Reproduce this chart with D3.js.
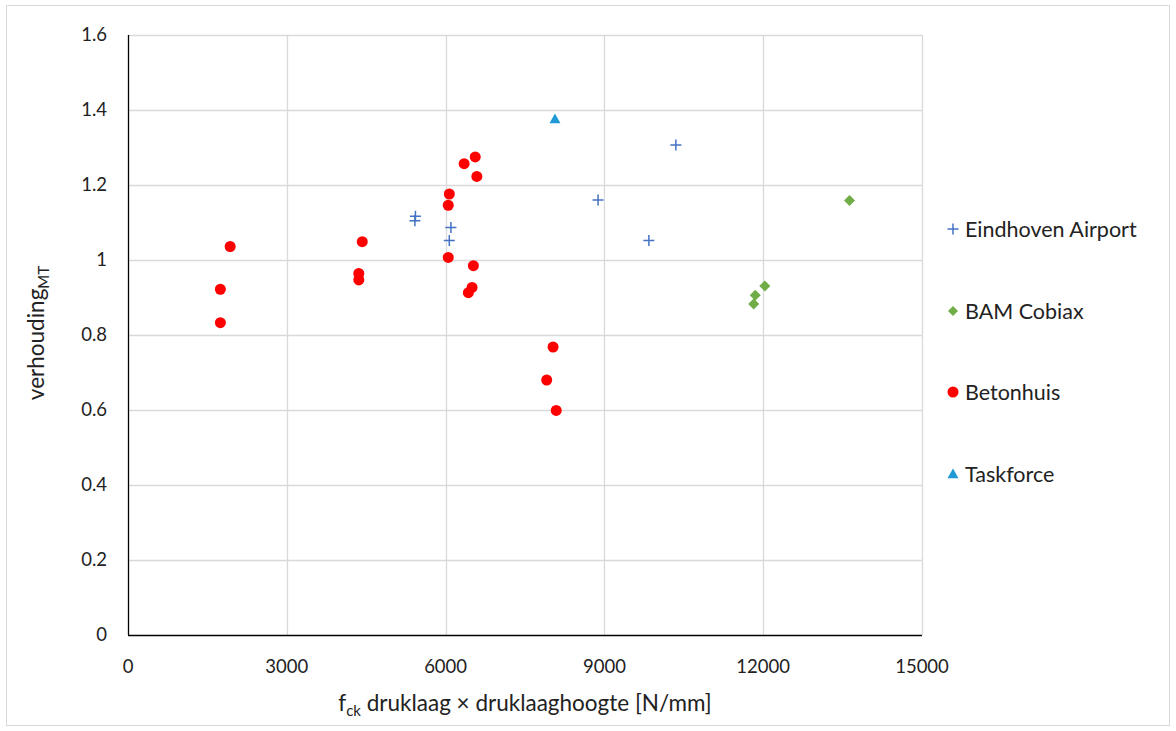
<!DOCTYPE html>
<html><head><meta charset="utf-8">
<script src="https://cdn.jsdelivr.net/npm/d3@7"></script>
<style>body{margin:0;background:#fff}svg{display:block}text{font-family:Lato,"Open Sans",sans-serif;fill:#222}</style>
</head><body><svg id="c" width="1176" height="731"></svg>
<script>
const xTicks=[0,3000,6000,9000,12000,15000];
const yTicks=[0,0.2,0.4,0.6,0.8,1,1.2,1.4,1.6];
const seriesNames=["Eindhoven Airport","BAM Cobiax","Betonhuis","Taskforce"];
const eindhovenX=[5430,5420,6100,6070,8880,9840,10350];
const eindhovenY=[1.117,1.105,1.087,1.052,1.16,1.052,1.307];
const bamX=[13630,12030,11850,11820];
const bamY=[1.159,0.931,0.906,0.883];
const betonX=[1930,1745,1745,4425,4360,4360,6560,6350,6590,6070,6050,6050,6525,6500,6430,8030,7910,8090];
const betonY=[1.036,0.922,0.833,1.049,0.964,0.947,1.275,1.257,1.223,1.176,1.146,1.007,0.985,0.927,0.913,0.768,0.68,0.599];
const taskX=[8066];
const taskY=[1.376];

const svg=d3.select("#c");
svg.append("rect").attr("x",6.5).attr("y",5.5).attr("width",1163).attr("height",720).attr("fill","#fff").attr("stroke","#d9d9d9");
const L=128,R=922,T=35,B=635;
const x=d3.scaleLinear().domain([0,15000]).range([L,R]);
const y=d3.scaleLinear().domain([0,1.6]).range([B,T]);
const g=svg.append("g");
g.selectAll(".gx").data(xTicks.slice(1)).join("line").attr("x1",d=>Math.round(x(d))+0.5).attr("x2",d=>Math.round(x(d))+0.5).attr("y1",T).attr("y2",B).attr("stroke","#d9d9d9").attr("stroke-width",1.3);
g.selectAll(".gy").data(yTicks.slice(1)).join("line").attr("y1",d=>Math.round(y(d))+0.5).attr("y2",d=>Math.round(y(d))+0.5).attr("x1",L).attr("x2",R).attr("stroke","#d9d9d9").attr("stroke-width",1.3);
g.append("line").attr("x1",L+0.5).attr("x2",L+0.5).attr("y1",T).attr("y2",B).attr("stroke","#000").attr("stroke-width",1.3);
g.append("line").attr("x1",L).attr("x2",R).attr("y1",B+0.5).attr("y2",B+0.5).attr("stroke","#000").attr("stroke-width",1.3);
g.selectAll(".yl").data(yTicks).join("text").attr("x",107).attr("y",d=>y(d)+6).attr("text-anchor","end").attr("font-size",18.5).text(d=>d3.format("")(d));
g.selectAll(".xl").data(xTicks).join("text").attr("x",d=>x(d)).attr("y",673).attr("text-anchor","middle").attr("font-size",18.5).text(d=>d);
const xt=svg.append("text").attr("x",525).attr("y",711).attr("text-anchor","middle").attr("font-size",22.5);
xt.append("tspan").text("f");
xt.append("tspan").attr("font-size",15).attr("dy",5).text("ck");
xt.append("tspan").attr("dy",-5).text(" druklaag × druklaaghoogte [N/mm]");
const yt=svg.append("text").attr("transform","translate(44,333) rotate(-90)").attr("text-anchor","middle").attr("font-size",22.5);
yt.append("tspan").text("verhouding");
yt.append("tspan").attr("font-size",15).attr("dy",5).text("MT");

const colors=["#4472C4","#70AD47","#FF0000","#1F9AD6"];
function plus(sel,cx,cy,s){sel.append("path").attr("d",`M${cx-s},${cy}H${cx+s}M${cx},${cy-s}V${cy+s}`).attr("stroke",colors[0]).attr("stroke-width",1.5).attr("fill","none");}
function diamond(sel,cx,cy,s){sel.append("path").attr("d",`M${cx},${cy-s}L${cx+s},${cy}L${cx},${cy+s}L${cx-s},${cy}Z`).attr("fill",colors[1]);}
function circle(sel,cx,cy,r){sel.append("circle").attr("cx",cx).attr("cy",cy).attr("r",r).attr("fill",colors[2]);}
function tri(sel,cx,cy,s){sel.append("path").attr("d",`M${cx},${cy-s}L${cx+s},${cy+s*0.75}L${cx-s},${cy+s*0.75}Z`).attr("fill",colors[3]);}
const m=svg.append("g");
eindhovenX.forEach((v,i)=>plus(m,x(v),y(eindhovenY[i]),5.5));
bamX.forEach((v,i)=>diamond(m,x(v),y(bamY[i]),5.5));
betonX.forEach((v,i)=>circle(m,x(v),y(betonY[i]),5.5));
taskX.forEach((v,i)=>tri(m,x(v),y(taskY[i]),5.5));
const ly=[229,311,392,474];
const lg=svg.append("g");
plus(lg,953,ly[0],5.5);
diamond(lg,953,ly[1],5);
circle(lg,953,ly[2],5.5);
tri(lg,953,ly[3],5.5);
seriesNames.forEach((n,i)=>lg.append("text").attr("x",965).attr("y",ly[i]+7.5).attr("font-size",21.5).text(n));
</script></body></html>
